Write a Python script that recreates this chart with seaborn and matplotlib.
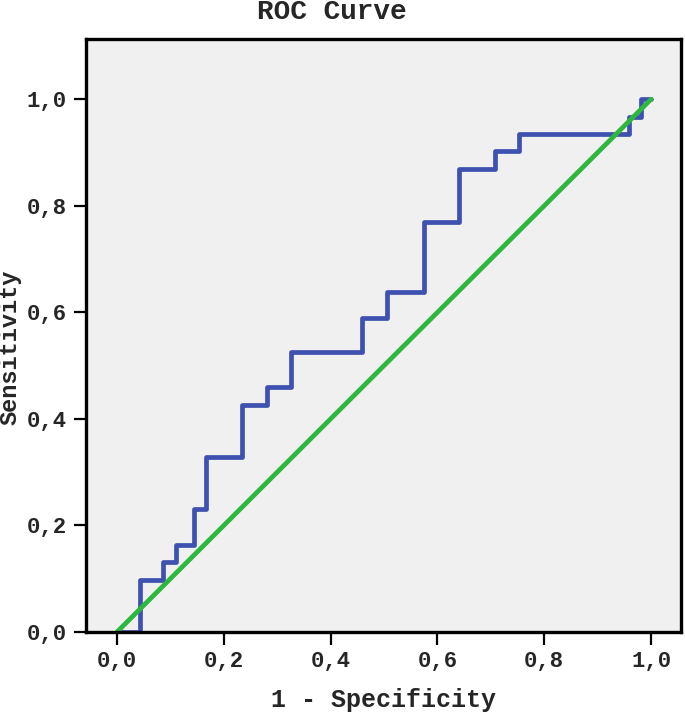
import matplotlib
matplotlib.use("Agg")
import matplotlib.pyplot as plt
import seaborn as sns
import pandas as pd

# ROC curve points (1 - specificity, sensitivity)
fpr = [0.0, 0.043, 0.087, 0.111, 0.144, 0.167, 0.234, 0.281, 0.325,
       0.459, 0.505, 0.574, 0.640, 0.707, 0.752, 0.959, 0.981, 1.0]
tpr = [0.0, 0.098, 0.131, 0.164, 0.230, 0.328, 0.426, 0.459, 0.525,
       0.590, 0.639, 0.770, 0.869, 0.902, 0.934, 0.967, 1.0, 1.0]
ref_x = [0.0, 1.0]
ref_y = [0.0, 1.0]
ticks = [0.0, 0.2, 0.4, 0.6, 0.8, 1.0]
tick_labels = ["0,0", "0,2", "0,4", "0,6", "0,8", "1,0"]

sns.set_style("white")
plt.rcParams["font.family"] = ["Liberation Mono", "DejaVu Sans Mono"]
plt.rcParams["font.weight"] = "bold"

roc = pd.DataFrame({"fpr": fpr, "tpr": tpr})
ref = pd.DataFrame({"x": ref_x, "y": ref_y})

fig = plt.figure(figsize=(6.85, 7.12), dpi=100)
ax = fig.add_axes([86 / 685, 1 - 632 / 712, (681 - 86) / 685, (632 - 39) / 712])
ax.set_facecolor("#f0f0f0")

sns.lineplot(data=roc, x="fpr", y="tpr", ax=ax, sort=False, estimator=None,
             drawstyle="steps-post", color="#3f51b0", linewidth=3.4)
sns.lineplot(data=ref, x="x", y="y", ax=ax, sort=False, estimator=None,
             color="#2db83d", linewidth=3.4)

ax.set_xlim(-0.058, 1.056)
ax.set_ylim(0, 1.113)
ax.set_xticks(ticks)
ax.set_xticklabels(tick_labels, fontsize=16, fontweight="bold")
ax.set_yticks(ticks)
ax.set_yticklabels(tick_labels, fontsize=16, fontweight="bold")
ax.tick_params(axis="both", direction="out", length=9, width=1.6, color="black",
               left=True, bottom=True, pad=5)

for side in ["left", "right", "top", "bottom"]:
    ax.spines[side].set_visible(True)
    ax.spines[side].set_color("black")
    ax.spines[side].set_linewidth(2.4)

ax.set_xlabel("1 - Specificity", fontsize=18, fontweight="bold")
ax.set_ylabel("Sensitivity", fontsize=17, fontweight="bold")
ax.xaxis.set_label_coords(0.5, -0.095)
ax.yaxis.set_label_coords(-0.108, 0.48)

fig.text(0.485, 1 - 12 / 712, "ROC Curve", ha="center", va="center",
         fontsize=20, fontweight="bold")

fig.savefig("out.png", dpi=100)
